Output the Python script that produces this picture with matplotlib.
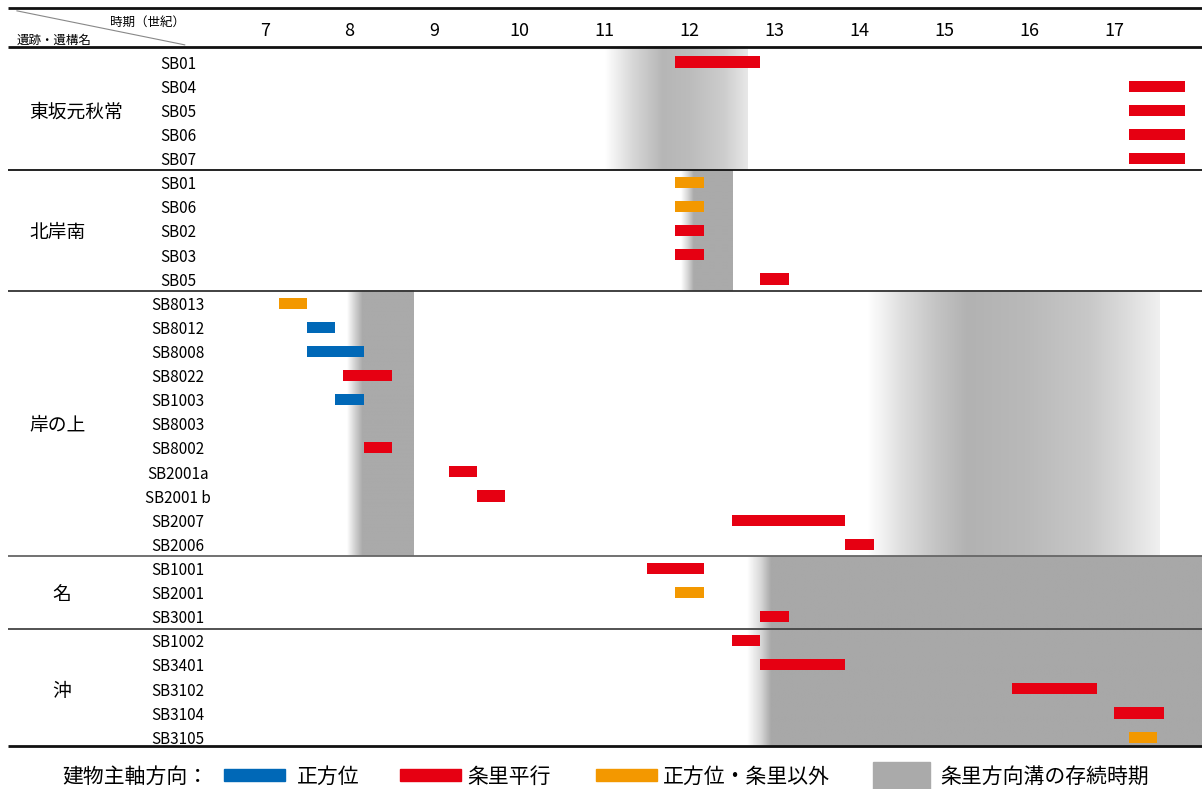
import numpy as np
import matplotlib.pyplot as plt
from matplotlib.patches import Rectangle

plt.rcParams['font.family'] = ['Noto Sans CJK JP', 'DejaVu Sans']

# sites and buildings (rows, top to bottom)
site_names = ['東坂元秋常', '北岸南', '岸の上', '名', '沖']
site_sizes = [5, 5, 11, 3, 5]
building_names = ['SB01', 'SB04', 'SB05', 'SB06', 'SB07',
                  'SB01', 'SB06', 'SB02', 'SB03', 'SB05',
                  'SB8013', 'SB8012', 'SB8008', 'SB8022', 'SB1003', 'SB8003',
                  'SB8002', 'SB2001a', 'SB2001 b', 'SB2007', 'SB2006',
                  'SB1001', 'SB2001', 'SB3001',
                  'SB1002', 'SB3401', 'SB3102', 'SB3104', 'SB3105']

# period of each building (year), None = no bar
start_year = [1133, 1667, 1667, 1667, 1667,
              1133, 1133, 1133, 1133, 1233,
              667, 700, 700, 742, 733, None, 767, 867, 900, 1200, 1333,
              1100, 1133, 1233,
              1200, 1233, 1530, 1650, 1667]
end_year = [1233, 1733, 1733, 1733, 1733,
            1167, 1167, 1167, 1167, 1267,
            700, 733, 767, 800, 767, None, 800, 900, 933, 1333, 1367,
            1167, 1167, 1267,
            1233, 1333, 1630, 1708, 1700]
axis_type = ['条里平行'] * 5 + \
            ['正方位・条里以外', '正方位・条里以外', '条里平行', '条里平行', '条里平行'] + \
            ['正方位・条里以外', '正方位', '正方位', '条里平行', '正方位', None,
             '条里平行', '条里平行', '条里平行', '条里平行', '条里平行'] + \
            ['条里平行', '正方位・条里以外', '条里平行'] + \
            ['条里平行', '条里平行', '条里平行', '条里平行', '正方位・条里以外']

centuries = list(range(7, 18))

# duration of the jori-oriented ditches: (year, grey level) profile per site block
ditch_sites = [[0], [1], [2], [2], [3, 4]]
ditch_profiles = [
    [(1050, 255), (1083, 215), (1118, 182), (1150, 188), (1190, 205), (1218, 232)],
    [(1140, 255), (1148, 215), (1155, 170), (1201, 170)],
    [(747, 255), (755, 215), (765, 170), (825, 170)],
    [(1360, 255), (1400, 222), (1440, 196), (1477, 178), (1545, 185),
     (1620, 200), (1660, 218), (1703, 240)],
    [(1218, 255), (1234, 215), (1246, 168), (1760, 168)],
]

colors = {'正方位': '#0068b7', '条里平行': '#e60012', '正方位・条里以外': '#f39800'}
ditch_color = '#aaaaaa'

fig = plt.figure(figsize=(12.02, 7.89), dpi=100)
ax = fig.add_axes([8 / 1202, 0.0545, 1194 / 1202, 0.9354])

y_top, y_head, y_bot = -2.24, -0.62, 28.37
x_min, x_max = 348, 1753
dy = 0.09  # text nudge so glyphs sit on the row centre

# block boundaries
bounds = np.cumsum([0] + site_sizes) - 0.5
bounds[0] = y_head
bounds[-1] = y_bot

# ditch shading
for sites, prof in zip(ditch_sites, ditch_profiles):
    ya = bounds[sites[0]]
    yb = bounds[sites[-1] + 1]
    xs = np.linspace(prof[0][0], prof[-1][0], 600)
    g = np.interp(xs, [p[0] for p in prof], [p[1] for p in prof]) / 255
    img = np.dstack([g, g, g])
    ax.imshow(img, extent=[xs[0], xs[-1], yb, ya], aspect='auto',
              interpolation='bilinear', zorder=0)

# bars
rows = np.arange(len(building_names))
for y, s, e, t in zip(rows, start_year, end_year, axis_type):
    if s is None:
        continue
    ax.barh(y, e - s, left=s, height=0.46, color=colors[t], zorder=2)

# lines
ax.hlines([y_top, y_head, y_bot], x_min, x_max, color='#111111', lw=2, clip_on=False, zorder=3)
sep_colors = ['#111111', '#333333', '#666666', '#444444']
ax.hlines(bounds[1:-1], x_min, x_max, colors=sep_colors, lw=1.3, zorder=3)

# header
for c in centuries:
    ax.text((c - 0.5) * 100, -1.37 + dy, str(c), ha='center', va='center', fontsize=13)
trans = ax.get_yaxis_transform()
ax.plot([0.0075, 0.148], [-2.12, -0.71], color='#888888', lw=0.8, transform=trans)
ax.text(0.148, -1.74 + dy, '時期（世紀）', ha='right', va='center', fontsize=9, transform=trans)
ax.text(0.0075, -1.0 + dy, '遺跡・遺構名', ha='left', va='center', fontsize=9, transform=trans)

# row labels
for y, name in zip(rows, building_names):
    ax.text(0.1424, y + dy, name, ha='center', va='center', fontsize=11, transform=trans)
for i, name in enumerate(site_names):
    mid = sum(site_sizes[:i]) + site_sizes[i] // 2
    if len(name) > 1:
        ax.text(0.0176, mid + dy, name, ha='left', va='center', fontsize=13.5, transform=trans)
    else:
        ax.text(0.045, mid + dy, name, ha='center', va='center', fontsize=13.5, transform=trans)

ax.set_xlim(x_min, x_max)
ax.set_ylim(y_bot, y_top)
ax.axis('off')

# legend
W, H = 1202, 789
ly = 1 - 777 / H
fig.text(62 / W, ly, '建物主軸方向：', ha='left', va='center', fontsize=15)
legend_items = [('正方位', 224, 297), ('条里平行', 400, 467), ('正方位・条里以外', 596, 663)]
for lab, px, tx in legend_items:
    fig.patches.append(Rectangle((px / W, 1 - 781 / H), 61 / W, 12 / H,
                                 transform=fig.transFigure, color=colors[lab]))
    fig.text(tx / W, ly, lab, ha='left', va='center', fontsize=15)
fig.patches.append(Rectangle((873 / W, 0), 57 / W, 27 / H,
                             transform=fig.transFigure, color=ditch_color))
fig.text(940 / W, ly, '条里方向溝の存続時期', ha='left', va='center', fontsize=15)

fig.savefig('out.png', dpi=100)
